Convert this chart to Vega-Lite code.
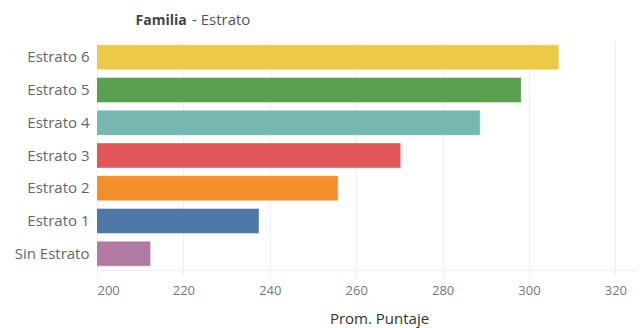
{
  "$schema": "https://vega.github.io/schema/vega-lite/v6.json",
  "autosize": {"type": "none"},
  "padding": {"left": 97, "top": 41, "right": 4, "bottom": 58},
  "width": 540,
  "height": 229,
  "background": "#ffffff",
  "title": {
    "text": "- Estrato",
    "anchor": "start",
    "frame": "group",
    "dx": 95,
    "offset": 0,
    "dy": 30,
    "baseline": "bottom",
    "font": "Open Sans",
    "fontSize": 15,
    "fontWeight": "normal",
    "color": "#555555"
  },
  "data": {
    "values": [
      {"estrato": "Estrato 6", "puntaje": 306.9},
      {"estrato": "Estrato 5", "puntaje": 298.2},
      {"estrato": "Estrato 4", "puntaje": 288.7},
      {"estrato": "Estrato 3", "puntaje": 270.3},
      {"estrato": "Estrato 2", "puntaje": 255.8},
      {"estrato": "Estrato 1", "puntaje": 237.5},
      {"estrato": "Sin Estrato", "puntaje": 212.4}
    ]
  },
  "mark": {"type": "bar", "clip": true, "stroke": "#ffffff", "strokeOpacity": 0.4, "strokeWidth": 1},
  "encoding": {
    "y": {
      "field": "estrato",
      "type": "nominal",
      "sort": null,
      "scale": {"paddingInner": 0.235, "paddingOuter": 0.1175},
      "axis": {
        "title": "Familia",
        "titleAngle": 0,
        "titleX": 38,
        "titleY": -21,
        "titleAlign": "left",
        "titleBaseline": "middle",
        "titleFont": "Open Sans",
        "titleFontSize": 14,
        "titleFontWeight": "bold",
        "titleColor": "#444444",
        "labelFont": "Open Sans",
        "labelFontSize": 15,
        "labelColor": "#666666",
        "labelPadding": 8,
        "ticks": false,
        "domain": false,
        "grid": false
      }
    },
    "x": {
      "field": "puntaje",
      "type": "quantitative",
      "scale": {"domain": [200, 325], "nice": false, "zero": false},
      "axis": {
        "title": "Prom. Puntaje",
        "values": [200, 220, 240, 260, 280, 300, 320],
        "titleX": 282,
        "titleY": 48,
        "titleBaseline": "middle",
        "titleFont": "Open Sans",
        "titleFontSize": 15,
        "titleFontWeight": "normal",
        "titleColor": "#333333",
        "labelFont": "Open Sans",
        "labelFontSize": 13,
        "labelColor": "#777777",
        "labelPadding": 8,
        "labelFlush": 5,
        "tickColor": "#eeeeee",
        "tickSize": 6,
        "domainColor": "#eeeeee",
        "gridColor": "#eeeeee",
        "grid": true
      }
    },
    "color": {
      "field": "estrato",
      "type": "nominal",
      "legend": null,
      "scale": {
        "domain": ["Estrato 6", "Estrato 5", "Estrato 4", "Estrato 3", "Estrato 2", "Estrato 1", "Sin Estrato"],
        "range": ["#EDC948", "#59A14F", "#76B7B2", "#E15759", "#F28E2B", "#4E79A7", "#B07AA1"]
      }
    }
  },
  "config": {"view": {"stroke": null}}
}
